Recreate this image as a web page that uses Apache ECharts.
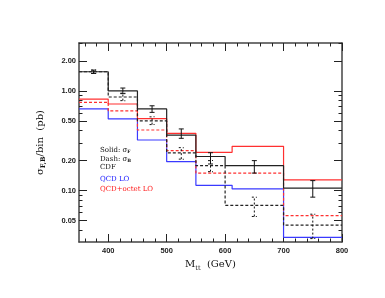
<!DOCTYPE html>
<html>
<head>
<meta charset="utf-8">
<script src="https://cdn.jsdelivr.net/npm/echarts@6/dist/echarts.min.js"></script>
<style>html,body{margin:0;padding:0;background:#fff}#c{width:385px;height:298px}</style>
</head>
<body>
<div id="c"></div>
<script>
// Bin lower edges (GeV); last bin ends at 800
const cdfEdges = [350, 400, 450, 500, 550, 600, 700];
const theoryEdges = [350, 400, 450, 500, 550, 612, 700];
const xEnd = 800;
// CDF data
const cdfF = [1.56, 1.0, 0.66, 0.36, 0.22, 0.178, 0.106];
const cdfB = [1.56, 0.87, 0.50, 0.239, 0.178, 0.071, 0.045];
const errX = [375, 425, 475, 525, 575, 650, 750];
const cdfFLow = [1.50, 0.94, 0.61, 0.335, 0.185, 0.15, 0.086];
const cdfFHigh = [1.62, 1.07, 0.71, 0.416, 0.24, 0.20, 0.126];
const cdfBLow = [1.50, 0.80, 0.46, 0.207, 0.155, 0.055, 0.033];
const cdfBHigh = [1.62, 0.95, 0.55, 0.27, 0.20, 0.086, 0.058];
// QCD + octet LO
const octetF = [0.83, 0.74, 0.527, 0.376, 0.242, 0.278, 0.128];
const octetB = [0.77, 0.63, 0.406, 0.252, 0.15, 0.15, 0.056];
// QCD LO
const qcdF = [0.66, 0.524, 0.322, 0.195, 0.113, 0.104, 0.034];
// Tick values
const yMajorTicks = [0.05, 0.1, 0.2, 0.5, 1, 2];
const yMinorTicks = [0.04, 0.06, 0.07, 0.08, 0.09, 0.3, 0.4, 0.6, 0.7, 0.8, 0.9, 3];
const xMajorTicks = [400, 500, 600, 700, 800];
const xMinorTicks = [360, 380, 420, 440, 460, 480, 520, 540, 560, 580, 620, 640, 660, 680, 720, 740, 760, 780];

function stepData(edges, vals) {
  return edges.map((e, i) => [e, vals[i]]).concat([[xEnd, vals[vals.length - 1]]]);
}
function errData(lo, hi) { return errX.map((x, i) => [x, lo[i], hi[i]]); }

const chart = echarts.init(document.getElementById('c'), null, {renderer: 'canvas'});
const AX = '#444';
const labelFont = {fontSize: 7.5, fontWeight: 'bold', color: '#222', fontFamily: 'Liberation Sans'};

function yAx(pos, ticks, len, showLine, showLabel) {
  return {
    type: 'log', logBase: 10, min: 0.0305, max: 3.03, position: pos,
    axisLine: {show: showLine, lineStyle: {color: AX, width: 1.5}},
    axisTick: {show: true, inside: true, length: len, customValues: ticks, lineStyle: {color: '#222', width: 1}},
    axisLabel: {show: showLabel, customValues: ticks, margin: 3, formatter: v => Number(v).toFixed(2), ...labelFont},
    splitLine: {show: false}, minorTick: {show: false}
  };
}
function xAx(pos, ticks, len, showLine, showLabel) {
  return {
    type: 'value', min: 350, max: 800, position: pos,
    axisLine: {show: showLine, lineStyle: {color: AX, width: 1.5}},
    axisTick: {show: true, inside: true, length: len, customValues: ticks, lineStyle: {color: '#222', width: 1}},
    axisLabel: {show: showLabel, customValues: ticks, margin: 5, ...labelFont},
    splitLine: {show: false}
  };
}

function errSeries(data, dashed) {
  return {
    type: 'custom', xAxisIndex: 0, yAxisIndex: 0, data: data,
    encode: {x: 0, y: [1, 2]},
    renderItem: function (params, api) {
      const x = api.value(0), lo = api.value(1), hi = api.value(2);
      const p1 = api.coord([x, lo]), p2 = api.coord([x, hi]);
      const w = 2.5;
      const st = {stroke: '#111', lineWidth: 1, lineDash: dashed ? [2, 2] : null};
      return {type: 'group', children: [
        {type: 'line', shape: {x1: p1[0], y1: p1[1], x2: p2[0], y2: p2[1]}, style: st},
        {type: 'line', shape: {x1: p1[0] - w, y1: p1[1], x2: p1[0] + w, y2: p1[1]}, style: st},
        {type: 'line', shape: {x1: p2[0] - w, y1: p2[1], x2: p2[0] + w, y2: p2[1]}, style: st}
      ]};
    },
    z: 5
  };
}
function stepSeries(data, color, dashed, z) {
  return {
    type: 'line', step: 'end', data: data, symbol: 'none', xAxisIndex: 0, yAxisIndex: 0,
    lineStyle: {color: color, width: 1.2, type: dashed ? [3, 2] : 'solid'}, z: z || 2
  };
}

const legFont = 'DejaVu Serif';
function legText(y, text, color) {
  return {type: 'text', left: 100, top: y - 4.5, style: {text: text, fontFamily: legFont, fontSize: 7, fill: color}};
}
function legSigma(y, label, sub) {
  return {type: 'text', left: 100, top: y - 4.5, style: {
    text: '{m|' + label + ' σ}{s|' + sub + '}', rich: {
      m: {fontFamily: legFont, fontSize: 7, fill: '#111'},
      s: {fontFamily: legFont, fontSize: 4.5, fontWeight: 'bold', fill: '#111', verticalAlign: 'bottom', padding: [4, 0, 0, 0]}
    }}};
}

chart.setOption({
  animation: false,
  grid: {left: 79, right: 43, top: 43, bottom: 56, containLabel: false},
  xAxis: [
    Object.assign(xAx('bottom', xMajorTicks, 8, true, true), {
      name: '{m|M}{s|tt}{m|  (GeV)}', nameLocation: 'middle', nameGap: 14,
      nameTextStyle: {rich: {
        m: {fontFamily: 'DejaVu Serif', fontSize: 10, color: '#111'},
        s: {fontFamily: 'DejaVu Serif', fontSize: 6.5, color: '#111', verticalAlign: 'bottom', padding: [6, 0, 0, 0]}
      }}
    }),
    xAx('bottom', xMinorTicks, 3.5, false, false),
    xAx('top', xMajorTicks, 8, true, false),
    xAx('top', xMinorTicks, 3.5, false, false)
  ],
  yAxis: [
    Object.assign(yAx('left', yMajorTicks, 8, true, true), {
      name: '{m|σ}{s|F,B}{m|/bin  (pb)}', nameLocation: 'middle', nameGap: 32, nameRotate: 90,
      nameTextStyle: {rich: {
        m: {fontFamily: 'DejaVu Serif', fontSize: 10, color: '#111'},
        s: {fontFamily: 'DejaVu Serif', fontSize: 6.5, fontWeight: 'bold', color: '#111', verticalAlign: 'bottom', padding: [6, 0, 0, 0]}
      }}
    }),
    yAx('left', yMinorTicks, 3.5, false, false),
    yAx('right', yMajorTicks, 8, true, false),
    yAx('right', yMinorTicks, 3.5, false, false)
  ],
  series: [
    stepSeries(stepData(theoryEdges, qcdF), '#3a3aff', false, 2),
    stepSeries(stepData(theoryEdges, octetB), '#ff3030', true, 2),
    stepSeries(stepData(theoryEdges, octetF), '#ff3030', false, 2),
    stepSeries(stepData(cdfEdges, cdfB), '#222', true, 3),
    stepSeries(stepData(cdfEdges, cdfF), '#222', false, 3),
    errSeries(errData(cdfFLow, cdfFHigh), false),
    errSeries(errData(cdfBLow, cdfBHigh), true)
  ],
  graphic: [
    legSigma(151, 'Solid:', 'F'),
    legSigma(160, 'Dash:', 'B'),
    legText(168.5, 'CDF', '#111'),
    legText(180.5, 'QCD LO', '#1a1aff'),
    legText(190, 'QCD+octet LO', '#ff1a1a')
  ]
});
</script>
</body>
</html>
